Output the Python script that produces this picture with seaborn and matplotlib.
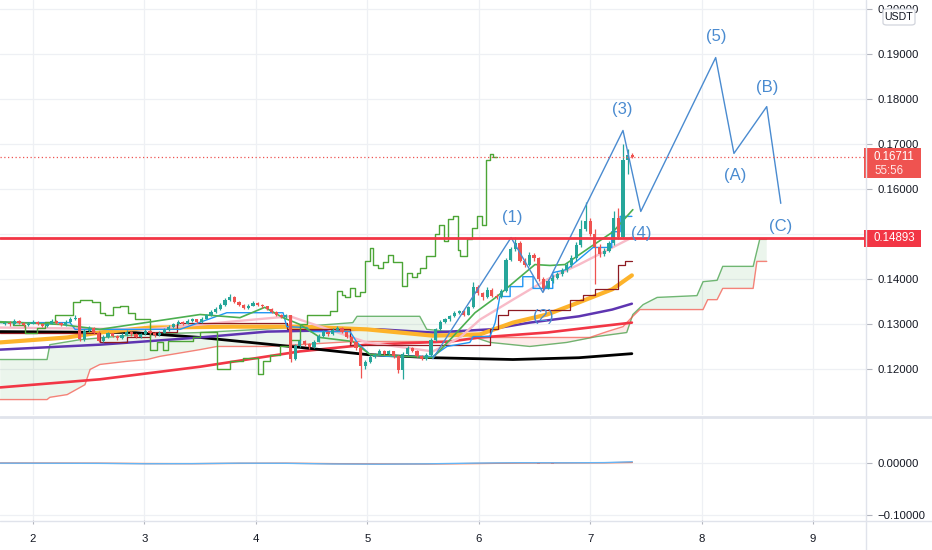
import numpy as np
import matplotlib
matplotlib.use("Agg")
import matplotlib.pyplot as plt
import matplotlib.transforms as mtransforms
from matplotlib.patches import Rectangle, FancyBboxPatch
from matplotlib.lines import Line2D
import seaborn as sns

# ---------------- data (x = hourly candle index) ----------------
day_labels = ['2', '3', '4', '5', '6', '7', '8', '9']
day_ticks = [6.0, 29.8, 53.6, 77.4, 101.2, 125.0, 148.8, 172.6]
price_ticks = [0.12, 0.13, 0.14, 0.15, 0.16, 0.17, 0.18, 0.19, 0.20]
osc_ticks = [0.0, -0.1]

first_open = 0.1300
closes = [0.1302, 0.1298, 0.1305, 0.1301, 0.1296, 0.1300, 0.1304, 0.1299, 0.1295, 0.1300,
          0.1306, 0.1302, 0.1297, 0.1303, 0.1310, 0.1313, 0.1266, 0.1284, 0.1290, 0.1280,
          0.1262, 0.1270, 0.1278, 0.1272, 0.1268, 0.1275, 0.1282, 0.1276, 0.1270, 0.1277,
          0.1283, 0.1279, 0.1274, 0.1280, 0.1286, 0.1292, 0.1298, 0.1303, 0.1300, 0.1306,
          0.1309, 0.1304, 0.1311, 0.1318, 0.1326, 0.1333, 0.1341, 0.1352, 0.1360, 0.1348,
          0.1342, 0.1335, 0.1340, 0.1346, 0.1341, 0.1338, 0.1332, 0.1326, 0.1320, 0.1315,
          0.1318, 0.1222, 0.1250, 0.1262, 0.1255, 0.1248, 0.1260, 0.1272, 0.1282, 0.1276,
          0.1285, 0.1290, 0.1282, 0.1270, 0.1258, 0.1245, 0.1205, 0.1215, 0.1226, 0.1231,
          0.1240, 0.1232, 0.1238, 0.1228, 0.1196, 0.1232, 0.1245, 0.1240, 0.1228, 0.1222,
          0.1230, 0.1264, 0.1287, 0.1304, 0.1309, 0.1316, 0.1324, 0.1327, 0.1320, 0.1336,
          0.1382, 0.1368, 0.1358, 0.1375, 0.1362, 0.1358, 0.1372, 0.1442, 0.1465, 0.1480,
          0.1440, 0.1430, 0.1452, 0.1445, 0.1400, 0.1380, 0.1395, 0.1402, 0.1410, 0.1418,
          0.1430, 0.1445, 0.1475, 0.1510, 0.1528, 0.1500, 0.1470, 0.1455, 0.1462, 0.1478,
          0.1535, 0.1493, 0.1664, 0.1675, 0.1671]
highs = [0.1306, 0.1305, 0.1309, 0.1307, 0.1304, 0.1303, 0.1308, 0.1306, 0.1301, 0.1302,
         0.1310, 0.1308, 0.1304, 0.1307, 0.1314, 0.1318, 0.1315, 0.1288, 0.1295, 0.1292,
         0.1283, 0.1274, 0.1282, 0.1280, 0.1275, 0.1279, 0.1286, 0.1284, 0.1278, 0.1280,
         0.1287, 0.1285, 0.1281, 0.1283, 0.1290, 0.1296, 0.1302, 0.1307, 0.1305, 0.1310,
         0.1313, 0.1311, 0.1315, 0.1322, 0.1330, 0.1337, 0.1345, 0.1357, 0.1365, 0.1362,
         0.1351, 0.1344, 0.1344, 0.1350, 0.1348, 0.1344, 0.1340, 0.1334, 0.1328, 0.1322,
         0.1322, 0.1320, 0.1254, 0.1266, 0.1264, 0.1257, 0.1264, 0.1276, 0.1286, 0.1284,
         0.1289, 0.1294, 0.1292, 0.1284, 0.1272, 0.1260, 0.1247, 0.1219, 0.1230, 0.1235,
         0.1244, 0.1242, 0.1242, 0.1240, 0.1230, 0.1236, 0.1249, 0.1248, 0.1242, 0.1230,
         0.1234, 0.1268, 0.1291, 0.1308, 0.1313, 0.1320, 0.1328, 0.1331, 0.1329, 0.1340,
         0.1392, 0.1385, 0.1371, 0.1381, 0.1378, 0.1366, 0.1376, 0.1446, 0.1470, 0.1492,
         0.1483, 0.1445, 0.1458, 0.1456, 0.1448, 0.1404, 0.1400, 0.1408, 0.1415, 0.1424,
         0.1436, 0.1452, 0.1482, 0.1530, 0.1571, 0.1535, 0.1510, 0.1476, 0.1468, 0.1484,
         0.1550, 0.1556, 0.1698, 0.1688, 0.1680]
lows = [0.1297, 0.1295, 0.1296, 0.1298, 0.1293, 0.1294, 0.1298, 0.1296, 0.1292, 0.1293,
        0.1298, 0.1300, 0.1294, 0.1295, 0.1301, 0.1307, 0.1262, 0.1262, 0.1281, 0.1277,
        0.1258, 0.1259, 0.1268, 0.1269, 0.1264, 0.1266, 0.1273, 0.1273, 0.1267, 0.1268,
        0.1275, 0.1276, 0.1271, 0.1272, 0.1278, 0.1284, 0.1290, 0.1296, 0.1297, 0.1298,
        0.1304, 0.1301, 0.1302, 0.1309, 0.1316, 0.1324, 0.1331, 0.1339, 0.1349, 0.1345,
        0.1338, 0.1332, 0.1333, 0.1338, 0.1338, 0.1335, 0.1329, 0.1323, 0.1317, 0.1312,
        0.1312, 0.1215, 0.1218, 0.1247, 0.1251, 0.1244, 0.1246, 0.1258, 0.1270, 0.1273,
        0.1274, 0.1283, 0.1279, 0.1267, 0.1254, 0.1241, 0.1178, 0.1200, 0.1212, 0.1223,
        0.1229, 0.1229, 0.1230, 0.1224, 0.1190, 0.1176, 0.1230, 0.1237, 0.1225, 0.1219,
        0.1220, 0.1228, 0.1262, 0.1285, 0.1301, 0.1306, 0.1314, 0.1321, 0.1317, 0.1318,
        0.1334, 0.1364, 0.1352, 0.1356, 0.1358, 0.1354, 0.1356, 0.1370, 0.1439, 0.1462,
        0.1436, 0.1425, 0.1428, 0.1440, 0.1395, 0.1372, 0.1376, 0.1390, 0.1398, 0.1406,
        0.1414, 0.1426, 0.1440, 0.1470, 0.1505, 0.1494, 0.1387, 0.1448, 0.1450, 0.1458,
        0.1474, 0.1488, 0.1490, 0.1632, 0.1668]

# moving averages (vertices)
pink_idx = [-1, 31.0, 48.1, 60.9, 77.3, 91.4, 97.2, 101.5, 108.5, 115.8, 122.6, 133.9]
pink_val = [0.1291, 0.1287, 0.1304, 0.1316, 0.1258, 0.1238, 0.1269, 0.1309, 0.1353, 0.1398, 0.1431, 0.1491]
orange_idx = [-1, 13.3, 20.3, 31.0, 48.7, 63.0, 77.3, 91.4, 101.5, 108.5, 115.8, 122.6, 129.7, 133.9]
orange_val = [0.1258, 0.1269, 0.1280, 0.1291, 0.1293, 0.1293, 0.1287, 0.1273, 0.1276, 0.1302, 0.1320, 0.1347, 0.1376, 0.1407]
purple_idx = [-1, 20.3, 41.7, 56.0, 80.1, 91.4, 103.6, 112.1, 122.6, 129.7, 133.9]
purple_val = [0.1242, 0.1253, 0.1269, 0.1282, 0.1287, 0.1280, 0.1287, 0.1302, 0.1316, 0.1331, 0.1344]
red_idx = [-1, 20.3, 41.7, 63.0, 77.3, 95.1, 101.5, 115.8, 126.4, 133.9]
red_val = [0.1158, 0.1176, 0.1204, 0.1238, 0.1253, 0.1260, 0.1269, 0.1280, 0.1293, 0.1302]
black_idx = [-1, 27.4, 41.7, 63.0, 77.3, 91.4, 108.5, 122.6, 133.9]
black_val = [0.1282, 0.1280, 0.1269, 0.1247, 0.1231, 0.1224, 0.1220, 0.1224, 0.1233]
green_idx = [-1, 11.8, 20.3, 41.7, 50.2, 55.5, 59.4, 63.0, 67.3, 74.3, 78.0, 91.4, 95.7,
             100.4, 105.1, 109.4, 113.2, 116.4, 119.6, 124.9, 129.9, 134.1]
green_val = [0.1304, 0.1298, 0.1287, 0.1320, 0.1313, 0.1336, 0.1313, 0.1298, 0.1269, 0.1260, 0.1231,
             0.1224, 0.1271, 0.1324, 0.1360, 0.1398, 0.1431, 0.1429, 0.1431, 0.1469, 0.1504, 0.1553]

# Ichimoku
tenkan_idx = [-1, 13.9, 15.0, 37.4, 47.4, 59.4, 60.2, 64.5, 65.2, 73.7, 75.2, 78.0, 81.6, 91.4,
              94.4, 99.3, 100.0, 103.6, 104.7, 105.7, 107.9, 107.9, 110.6, 110.6, 112.8, 112.8,
              117.0, 117.0, 120.0, 125.6, 129.6, 129.6, 131.4, 131.4, 133.9]
tenkan_val = [0.1302, 0.1302, 0.1287, 0.1287, 0.1324, 0.1324, 0.1293, 0.1291, 0.1282, 0.1282,
              0.1258, 0.1231, 0.1227, 0.1227, 0.1249, 0.1258, 0.1271, 0.1271, 0.1302, 0.1360,
              0.1360, 0.1382, 0.1382, 0.1404, 0.1404, 0.1378, 0.1378, 0.1413, 0.1420, 0.1469,
              0.1469, 0.1504, 0.1504, 0.1538, 0.1538]
kijun_idx = [-1, 20.3, 26.1, 31.0, 36.8, 60.2, 73.7, 103.6, 105.3, 107.4, 120.7, 123.5, 126.0,
             130.9, 132.4, 133.9]
kijun_val = [0.1280, 0.1260, 0.1269, 0.1282, 0.1302, 0.1287, 0.1253, 0.1287, 0.1320, 0.1331,
             0.1353, 0.1364, 0.1376, 0.1431, 0.1438, 0.1438]
lag_idx = [-1, 1.7, 4.3, 6.9, 8.6, 10.7, 14.5, 16.0, 18.6, 20.3, 21.4, 23.1, 24.6, 26.3, 27.8,
           31.0, 32.5, 33.8, 34.8, 40.2, 41.7, 45.3, 48.1, 50.8, 54.1, 55.1, 56.6, 58.8, 60.9,
           63.0, 64.5, 69.4, 70.9, 72.0, 72.6, 73.7, 74.8, 75.8, 76.9, 78.0, 78.6, 79.7, 80.7,
           81.8, 82.9, 84.8, 85.9, 86.9, 88.0, 88.6, 89.9, 91.8, 92.7, 93.8, 94.6, 95.7, 96.8,
           97.2, 98.7, 99.8, 100.8, 101.9, 102.7, 103.6, 104.2, 105.1]
lag_val = [0.1304, 0.1296, 0.1280, 0.1291, 0.1304, 0.1318, 0.1347, 0.1353, 0.1347, 0.1324,
           0.1318, 0.1336, 0.1340, 0.1324, 0.1309, 0.1242, 0.1258, 0.1242, 0.1262, 0.1271,
           0.1282, 0.1198, 0.1216, 0.1224, 0.1187, 0.1216, 0.1231, 0.1249, 0.1264, 0.1298,
           0.1320, 0.1327, 0.1373, 0.1364, 0.1358, 0.1380, 0.1362, 0.1371, 0.1438, 0.1467,
           0.1431, 0.1424, 0.1436, 0.1453, 0.1436, 0.1384, 0.1413, 0.1404, 0.1413, 0.1424,
           0.1449, 0.1500, 0.1518, 0.1484, 0.1533, 0.1538, 0.1464, 0.1449, 0.1487, 0.1513,
           0.1538, 0.1520, 0.1664, 0.1676, 0.1671, 0.1671]
spanA_idx = [-1, 9.0, 9.6, 16.0, 28.9, 41.7, 54.5, 63.0, 74.3, 75.2, 88.6, 90.1, 97.2, 103.6,
             112.1, 120.0, 126.4, 132.8, 134.1, 136.3, 139.3, 147.8, 149.1, 152.1, 153.3, 159.8,
             161.2, 162.7]
spanA_val = [0.1220, 0.1220, 0.1253, 0.1264, 0.1276, 0.1280, 0.1287, 0.1293, 0.1302, 0.1316,
             0.1316, 0.1287, 0.1280, 0.1258, 0.1249, 0.1258, 0.1271, 0.1280, 0.1320, 0.1342,
             0.1358, 0.1362, 0.1393, 0.1396, 0.1427, 0.1427, 0.1487, 0.1487]
spanB_idx = [-1, 9.0, 9.6, 13.3, 17.1, 18.2, 20.3, 26.1, 30.4, 33.1, 41.7, 45.3, 56.0, 63.0,
             74.3, 95.1, 101.5, 124.9, 128.6, 132.0, 134.1, 135.6, 149.1, 150.1, 152.1, 153.3,
             159.8, 160.6, 162.7]
spanB_val = [0.1131, 0.1131, 0.1136, 0.1142, 0.1164, 0.1198, 0.1209, 0.1216, 0.1220, 0.1227,
             0.1242, 0.1249, 0.1249, 0.1253, 0.1260, 0.1260, 0.1269, 0.1269, 0.1282, 0.1293,
             0.1316, 0.1331, 0.1331, 0.1353, 0.1353, 0.1378, 0.1378, 0.1438, 0.1438]

# Elliott wave drawing
wave_idx = [91.4, 108.1, 114.9, 132.0, 135.8, 151.8, 155.7, 162.7, 165.7]
wave_val = [0.1222, 0.1491, 0.1369, 0.1729, 0.1549, 0.1891, 0.1678, 0.1782, 0.1567]
wave_labels = ['(1)', '(2)', '(3)', '(4)', '(5)', '(A)', '(B)', '(C)']
wave_label_idx = [108.3, 115.0, 131.8, 136.0, 151.9, 155.9, 162.8, 165.7]
wave_label_val = [0.1536, 0.1316, 0.1776, 0.1500, 0.1938, 0.1629, 0.1824, 0.1516]

support_level = 0.14893
last_price = 0.16711
countdown = '55:56'

# oscillator panel
osc_idx = [-1, 10, 20, 30, 40, 50, 60, 70, 80, 90, 100, 110, 120, 128, 134]
macd_val = [0.0004, 0.0002, 0.0000, -0.0008, -0.0006, 0.0003, 0.0001, -0.0012, -0.0016,
            -0.0010, 0.0004, 0.0012, 0.0010, 0.0014, 0.0030]
signal_val = [0.0006, 0.0004, 0.0002, -0.0004, -0.0006, 0.0000, 0.0002, -0.0006, -0.0012,
              -0.0012, -0.0004, 0.0006, 0.0009, 0.0011, 0.0018]
hist_idx = [96, 99, 102, 105, 108, 111, 114, 117, 120, 123, 126, 129, 132, 134]
hist_val = [0.0010, 0.0012, 0.0008, 0.0006, 0.0009, 0.0005, -0.0004, -0.0006, 0.0004, 0.0007,
            -0.0003, 0.0005, 0.0012, 0.0016]

# ---------------- style ----------------
sns.set_theme(style='white')
plt.rcParams['font.family'] = ['Liberation Sans', 'DejaVu Sans']
TXT = '#131722'
GRID = '#EEF0F4'
SEP = '#E0E3EB'
UP, DN = '#26A69A', '#EF5350'
WAVE = '#4A8BD0'

W, H = 932, 550
fig = plt.figure(figsize=(W / 100, H / 100), dpi=100)
fig.patch.set_facecolor('white')
ax = fig.add_axes([0, 1 - 415 / H, 866 / W, 415 / H])
ax2 = fig.add_axes([0, 1 - 520 / H, 866 / W, 102 / H])

XMIN, XMAX = -1.046, 183.9
for a in (ax, ax2):
    a.set_facecolor('white')
    a.set_xlim(XMIN, XMAX)
    for s in a.spines.values():
        s.set_visible(False)
    a.set_xticks(day_ticks)
    a.grid(False)
    for t in day_ticks:
        a.axvline(t, color=GRID, lw=0.9, zorder=0)

ax.set_ylim(0.10967, 0.20189)
ax2.set_ylim(-0.1097, 0.0878)
for p in price_ticks:
    ax.axhline(p, color=GRID, lw=0.9, zorder=0)
for p in osc_ticks:
    ax2.axhline(p, color=GRID, lw=0.9, zorder=0)

# ---------------- cloud ----------------
grid_x = np.linspace(min(spanA_idx), max(spanA_idx), 900)
ga = np.interp(grid_x, spanA_idx, spanA_val)
gb = np.interp(grid_x, spanB_idx, spanB_val)
ax.fill_between(grid_x, ga, gb, where=ga >= gb, interpolate=True, color='#43A047', alpha=0.10, lw=0, zorder=1)
ax.fill_between(grid_x, ga, gb, where=ga < gb, interpolate=True, color='#F44336', alpha=0.10, lw=0, zorder=1)

def line(a, xs, ys, color, lw, z, alpha=1.0, **kw):
    sns.lineplot(x=xs, y=ys, ax=a, color=color, linewidth=lw, estimator=None, sort=False,
                 errorbar=None, legend=False, zorder=z, alpha=alpha, **kw)

line(ax, spanA_idx, spanA_val, '#43A047', 1.0, 1.5, alpha=0.75)
line(ax, spanB_idx, spanB_val, '#F44336', 1.0, 1.5, alpha=0.65)

# moving averages
line(ax, red_idx, red_val, '#F23645', 1.9, 2)
line(ax, black_idx, black_val, '#000000', 2.0, 2)
line(ax, purple_idx, purple_val, '#5E35B1', 1.8, 2)
line(ax, orange_idx, orange_val, '#FDB32B', 3.0, 2)
line(ax, pink_idx, pink_val, '#F8BBC8', 1.7, 2)
line(ax, green_idx, green_val, '#4CAF50', 1.2, 2.3)
line(ax, kijun_idx, kijun_val, '#8E1B22', 0.9, 2.2, drawstyle='steps-post')
line(ax, tenkan_idx, tenkan_val, '#2196F3', 1.0, 2.2)
line(ax, lag_idx, lag_val, '#4CA536', 1.0, 2.2, drawstyle='steps-post')

# ---------------- candles ----------------
opens = [first_open] + closes[:-1]
idx = np.arange(len(closes))
o = np.array(opens)
c = np.array(closes)
hi = np.maximum(np.array(highs), np.maximum(o, c))
lo = np.minimum(np.array(lows), np.minimum(o, c))
cols = [UP if cc >= oo else DN for oo, cc in zip(o, c)]
ax.vlines(idx, lo, hi, colors=cols, lw=0.9, zorder=3)
body_h = np.maximum(np.abs(c - o), 0.00012)
ax.bar(idx, body_h, bottom=np.minimum(o, c), width=0.68, color=cols, lw=0, zorder=3.1)

# ---------------- wave drawing ----------------
line(ax, wave_idx, wave_val, WAVE, 1.0, 4)
for lab, xi, yv in zip(wave_labels, wave_label_idx, wave_label_val):
    ax.text(xi, yv, lab, ha='center', va='center', fontsize=12, color=WAVE, zorder=6)

# horizontal support and last price lines
ax.axhline(support_level, color='#F23645', lw=2.0, zorder=5)
ax.axhline(last_price, color='#EF5350', lw=0.9, ls=(0, (1, 2)), zorder=4.5)

# ---------------- oscillator ----------------
ax2.bar(hist_idx, hist_val, width=0.6, color=[UP if v >= 0 else DN for v in hist_val], lw=0, zorder=2)
line(ax2, osc_idx, signal_val, '#FF7043', 1.0, 3)
line(ax2, osc_idx, macd_val, '#64B5F6', 1.0, 3)

# ---------------- axes / labels ----------------
ax.yaxis.tick_right()
ax.set_yticks(price_ticks)
ax.set_yticklabels([f'{v:.5f}' for v in price_ticks])
ax2.yaxis.tick_right()
ax2.set_yticks(osc_ticks)
ax2.set_yticklabels([f'{v:.5f}'.replace('-', '\u2212') for v in osc_ticks])
for a in (ax, ax2):
    a.tick_params(axis='y', which='both', right=True, left=False, length=4, width=0.8,
                  color='#B2B5BE', pad=4, labelsize=8.2, labelcolor=TXT)
    a.set_ylabel('')
    a.set_xlabel('')
ax.tick_params(axis='x', bottom=False, labelbottom=False)
ax2.set_xticklabels(day_labels)
ax2.tick_params(axis='x', bottom=True, length=3, width=0.8, color='#B2B5BE', pad=7,
                labelsize=8.2, labelcolor=TXT)

# price tags on the scale
trans = mtransforms.blended_transform_factory(fig.transFigure, ax.transData)
px = 1 / 4500.0
ax.add_patch(Rectangle((864 / W, support_level - 9 * px), 57 / W, 17 * px, transform=trans,
                       color='#F23645', clip_on=False, zorder=10, lw=0))
ax.text(874 / W, support_level, f'{support_level:.5f}', transform=trans, color='white',
        fontsize=8.3, va='center', ha='left', zorder=11, clip_on=False)
ax.add_patch(Rectangle((864 / W, last_price - 21 * px), 57 / W, 30 * px, transform=trans,
                       color='#EF5350', clip_on=False, zorder=10, lw=0))
ax.text(874 / W, last_price, f'{last_price:.5f}', transform=trans, color='white',
        fontsize=8.3, va='center', ha='left', zorder=11, clip_on=False)
ax.text(874 / W, last_price - 14 * px, countdown, transform=trans, color='#FFE5E5',
        fontsize=8.3, va='center', ha='left', zorder=11, clip_on=False)

# currency badge
fig.patches.append(FancyBboxPatch((883 / W, 1 - 25 / H), 32 / W, 16 / H,
                                  boxstyle='round,pad=0,rounding_size=0.004',
                                  transform=fig.transFigure, fc='white', ec='#D1D4DC', lw=0.9,
                                  zorder=20))
fig.text(899 / W, 1 - 17 / H, 'USDT', ha='center', va='center', fontsize=7.6, color=TXT, zorder=21)

# separators
fig.add_artist(Line2D([866 / W, 866 / W], [0, 1], color=SEP, lw=1.0, transform=fig.transFigure))
fig.add_artist(Line2D([0, 1], [1 - 416.5 / H] * 2, color=SEP, lw=2.0, transform=fig.transFigure))
fig.add_artist(Line2D([0, 1], [1 - 520.5 / H] * 2, color=SEP, lw=1.0, transform=fig.transFigure))

fig.savefig('out.png', dpi=100, facecolor='white')
